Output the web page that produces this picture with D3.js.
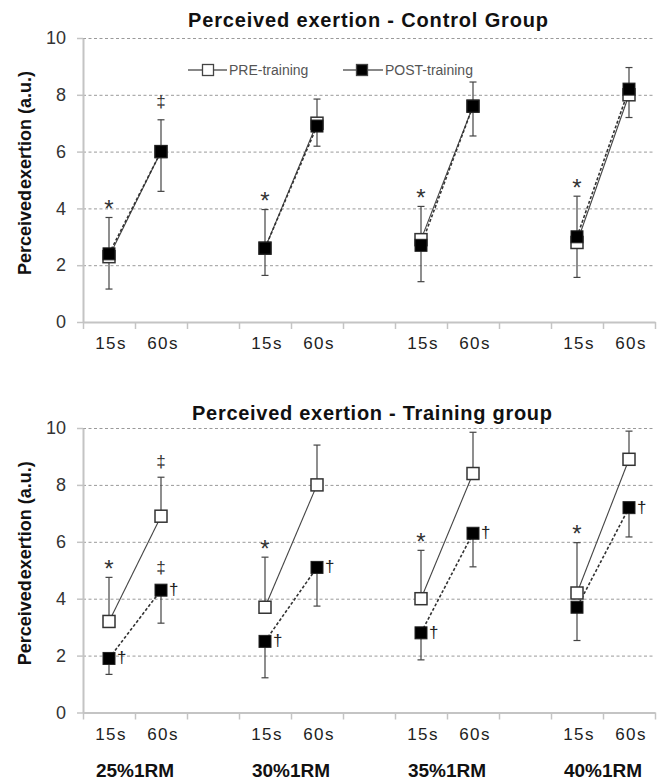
<!DOCTYPE html>
<html>
<head>
<meta charset="utf-8">
<script src="https://cdn.jsdelivr.net/npm/d3@7"></script>
<style>
  html, body { margin: 0; padding: 0; background: #fff; }
  svg { display: block; font-family: "Liberation Sans", Arial, sans-serif; }
</style>
</head>
<body>
<svg id="chart" width="664" height="780"></svg>
<script>
// ---------- DATA ----------
const loads = ["25%1RM", "30%1RM", "35%1RM", "40%1RM"];
const times = ["15s", "60s"];
const yTicks = [0, 2, 4, 6, 8, 10];
const seriesNames = ["PRE-training", "POST-training"];

// order: 25% 15s, 25% 60s, 30% 15s, 30% 60s, 35% 15s, 35% 60s, 40% 15s, 40% 60s
const controlPre    = [2.3, 6.0, 2.6, 7.0, 2.9, 7.6, 2.8, 8.0];
const controlPreSD  = [1.38, 1.12, 1.36, 0.85, 1.17, 0.85, 1.63, 0.96];
const controlPost   = [2.4, 6.0, 2.6, 6.9, 2.7, 7.6, 3.0, 8.2];
const controlPostSD = [1.24, 1.40, 0.96, 0.71, 1.28, 1.05, 1.43, 1.00];
const controlPreMarks  = ["*", "‡", "*", "", "*", "", "*", ""];
const controlPostMarks = ["", "", "", "", "", "", "", ""];
const controlPostDagger = [false, false, false, false, false, false, false, false];

const trainPre    = [3.2, 6.9, 3.7, 8.0, 4.0, 8.4, 4.2, 8.9];
const trainPreSD  = [1.55, 1.37, 1.76, 1.40, 1.70, 1.45, 1.77, 0.99];
const trainPost   = [1.9, 4.3, 2.5, 5.1, 2.8, 6.3, 3.7, 7.2];
const trainPostSD = [0.56, 1.16, 1.28, 1.36, 0.95, 1.18, 1.17, 1.03];
const trainPreMarks  = ["*", "‡", "*", "", "*", "", "*", ""];
const trainPostMarks = ["", "‡", "", "", "", "", "", ""];
const trainPostDagger = [true, true, true, true, true, true, false, true];

// ---------- SETUP ----------
const svg = d3.select("#chart");
svg.append("rect").attr("width", 664).attr("height", 780).attr("fill", "#fff");

// slots: 15s, 60s, gap, 15s, 60s, gap, ...
const slots = [];
loads.forEach((l, i) => {
  times.forEach(t => slots.push(l + "|" + t));
  if (i < loads.length - 1) slots.push(l + "|gap");
});
const pointSlots = [];
loads.forEach(l => times.forEach(t => pointSlots.push(l + "|" + t)));

const X0 = 83, X1 = 655;
const x = d3.scaleBand().domain(slots).range([X0, X1]).paddingInner(0).paddingOuter(0);
const xTicks = d3.scaleLinear().domain([0, slots.length]).range([X0, X1]);

function drawPanel(cfg) {
  const y = d3.scaleLinear().domain([0, 10]).range([cfg.yBottom, cfg.yTop]);
  const g = svg.append("g");

  // gridlines
  g.append("g")
    .attr("transform", `translate(${X0},0)`)
    .call(d3.axisLeft(y).tickValues(yTicks.filter(v => v > 0)).tickSize(-(X1 - X0)).tickFormat(""))
    .call(s => s.select(".domain").remove())
    .call(s => s.selectAll("line").attr("stroke", "#9a9a9a").attr("stroke-width", 1).attr("stroke-dasharray", "3,2.5"));

  // y axis
  g.append("g")
    .attr("transform", `translate(${X0},0)`)
    .call(d3.axisLeft(y).tickValues(yTicks).tickSize(6).tickSizeOuter(0).tickPadding(11))
    .call(s => s.select(".domain").attr("stroke", "#c4c4c4").attr("stroke-width", 2))
    .call(s => s.selectAll("line").attr("stroke", "#c4c4c4").attr("stroke-width", 1.5))
    .call(s => s.selectAll("text").attr("font-size", 18).attr("fill", "#333")
      .attr("font-family", "'Liberation Sans', Arial, sans-serif"));

  // x axis ticks at boundaries
  g.append("g")
    .attr("transform", `translate(0,${cfg.yBottom})`)
    .call(d3.axisBottom(xTicks).tickValues(d3.range(slots.length + 1)).tickSize(7).tickSizeOuter(0).tickFormat(""))
    .call(s => s.select(".domain").attr("stroke", "#c4c4c4").attr("stroke-width", 2))
    .call(s => s.selectAll("line").attr("stroke", "#c4c4c4").attr("stroke-width", 1.5));

  // x labels
  g.append("g")
    .attr("transform", `translate(2,${cfg.yBottom})`)
    .call(d3.axisBottom(x).tickSize(0).tickPadding(15).tickFormat(d => d.split("|")[1] === "gap" ? "" : d.split("|")[1]))
    .call(s => s.select(".domain").remove())
    .call(s => s.selectAll("text").attr("font-size", 17).attr("fill", "#222")
      .attr("letter-spacing", "1.4px")
      .attr("font-family", "'Liberation Sans', Arial, sans-serif"));

  // title
  g.append("text")
    .attr("x", cfg.titleX).attr("y", cfg.titleY)
    .attr("text-anchor", "middle")
    .attr("font-size", 20).attr("font-weight", "bold").attr("fill", "#111")
    .attr("textLength", 360).attr("lengthAdjust", "spacing")
    .text(cfg.title);

  // y title
  const yt = g.append("text")
    .attr("transform", `translate(31,${(cfg.yTop + cfg.yBottom) / 2 - 7}) rotate(-90)`)
    .attr("text-anchor", "middle")
    .attr("font-size", 18).attr("font-weight", "bold").attr("fill", "#111");
  yt.append("tspan").text("Perceived");
  yt.append("tspan").attr("dx", -4).text(" exertion (a.u.)");

  const cx = i => x(pointSlots[i]) + x.bandwidth() / 2;

  // connecting lines per load (15s -> 60s)
  loads.forEach((l, k) => {
    const i0 = 2 * k, i1 = 2 * k + 1;
    g.append("line")
      .attr("x1", cx(i0)).attr("y1", y(cfg.pre[i0]))
      .attr("x2", cx(i1)).attr("y2", y(cfg.pre[i1]))
      .attr("stroke", "#444").attr("stroke-width", 1.1);
    g.append("line")
      .attr("x1", cx(i0)).attr("y1", y(cfg.post[i0]))
      .attr("x2", cx(i1)).attr("y2", y(cfg.post[i1]))
      .attr("stroke", "#333").attr("stroke-width", 1.6).attr("stroke-dasharray", "3,2");
  });

  // error bars: PRE up, POST down
  const eb = g.append("g").attr("stroke", "#444").attr("stroke-width", 1.2);
  cfg.pre.forEach((v, i) => {
    const top = y(v + cfg.preSD[i]);
    eb.append("line").attr("x1", cx(i)).attr("x2", cx(i)).attr("y1", y(v)).attr("y2", top);
    eb.append("line").attr("x1", cx(i) - 3.5).attr("x2", cx(i) + 3.5).attr("y1", top).attr("y2", top);
  });
  cfg.post.forEach((v, i) => {
    const bot = y(v - cfg.postSD[i]);
    eb.append("line").attr("x1", cx(i)).attr("x2", cx(i)).attr("y1", y(v)).attr("y2", bot);
    eb.append("line").attr("x1", cx(i) - 3.5).attr("x2", cx(i) + 3.5).attr("y1", bot).attr("y2", bot);
  });

  const S = 12;
  // PRE squares
  g.selectAll(".pre").data(cfg.pre).join("rect")
    .attr("x", (d, i) => cx(i) - S / 2).attr("y", d => y(d) - S / 2)
    .attr("width", S).attr("height", S)
    .attr("fill", "#fff").attr("stroke", "#333").attr("stroke-width", 1.5);
  // POST squares
  g.selectAll(".post").data(cfg.post).join("rect")
    .attr("x", (d, i) => cx(i) - S / 2).attr("y", d => y(d) - S / 2)
    .attr("width", S).attr("height", S)
    .attr("fill", "#000").attr("stroke", "#222").attr("stroke-width", 1);

  // annotations above PRE error bars
  cfg.preMarks.forEach((m, i) => {
    if (!m) return;
    const top = y(cfg.pre[i] + cfg.preSD[i]);
    if (m === "*") {
      g.append("text").attr("x", cx(i)).attr("y", top - 14 + 13.5)
        .attr("text-anchor", "middle").attr("font-size", 24).attr("fill", "#333").text("*");
    } else {
      g.append("text").attr("x", cx(i)).attr("y", top - cfg.ddOffset + 5)
        .attr("text-anchor", "middle").attr("font-size", 17).attr("fill", "#333").text(m);
    }
  });
  cfg.postMarks.forEach((m, i) => {
    if (!m) return;
    g.append("text").attr("x", cx(i)).attr("y", y(cfg.post[i]) - 22 + 5)
      .attr("text-anchor", "middle").attr("font-size", 17).attr("fill", "#333").text(m);
  });
  cfg.postDagger.forEach((on, i) => {
    if (!on) return;
    g.append("text").attr("x", cx(i) + 8).attr("y", y(cfg.post[i]) + 5)
      .attr("font-size", 17).attr("fill", "#222").text("†");
  });

  return g;
}

drawPanel({
  title: "Perceived exertion - Control Group", titleX: 368, titleY: 27,
  yTop: 38, yBottom: 322,
  pre: controlPre, preSD: controlPreSD, post: controlPost, postSD: controlPostSD,
  preMarks: controlPreMarks, postMarks: controlPostMarks, postDagger: controlPostDagger,
  ddOffset: 18
});

const bottom = drawPanel({
  title: "Perceived exertion - Training group", titleX: 372, titleY: 420,
  yTop: 428, yBottom: 712.5,
  pre: trainPre, preSD: trainPreSD, post: trainPost, postSD: trainPostSD,
  preMarks: trainPreMarks, postMarks: trainPostMarks, postDagger: trainPostDagger,
  ddOffset: 15
});

// load labels under bottom chart
loads.forEach(l => {
  const c = (x(l + "|15s") + x(l + "|60s") + x.bandwidth()) / 2;
  bottom.append("text").attr("x", c).attr("y", 777)
    .attr("text-anchor", "middle").attr("font-size", 19).attr("font-weight", "bold")
    .attr("fill", "#111").text(l);
});

// legend (top chart)
const leg = svg.append("g");
const legItems = [
  { name: seriesNames[0], x0: 188, x1: 227, cx: 208, fill: "#fff", tx: 229 },
  { name: seriesNames[1], x0: 343, x1: 383, cx: 362, fill: "#000", tx: 385 }
];
legItems.forEach(it => {
  leg.append("line").attr("x1", it.x0).attr("x2", it.x1).attr("y1", 70).attr("y2", 70)
    .attr("stroke", "#888").attr("stroke-width", 2);
  leg.append("rect").attr("x", it.cx - 5.5).attr("y", 64.5).attr("width", 11).attr("height", 11)
    .attr("fill", it.fill).attr("stroke", "#444").attr("stroke-width", 1.3);
  leg.append("text").attr("x", it.tx).attr("y", 75).attr("font-size", 14).attr("fill", "#555")
    .text(it.name);
});
</script>
</body>
</html>
